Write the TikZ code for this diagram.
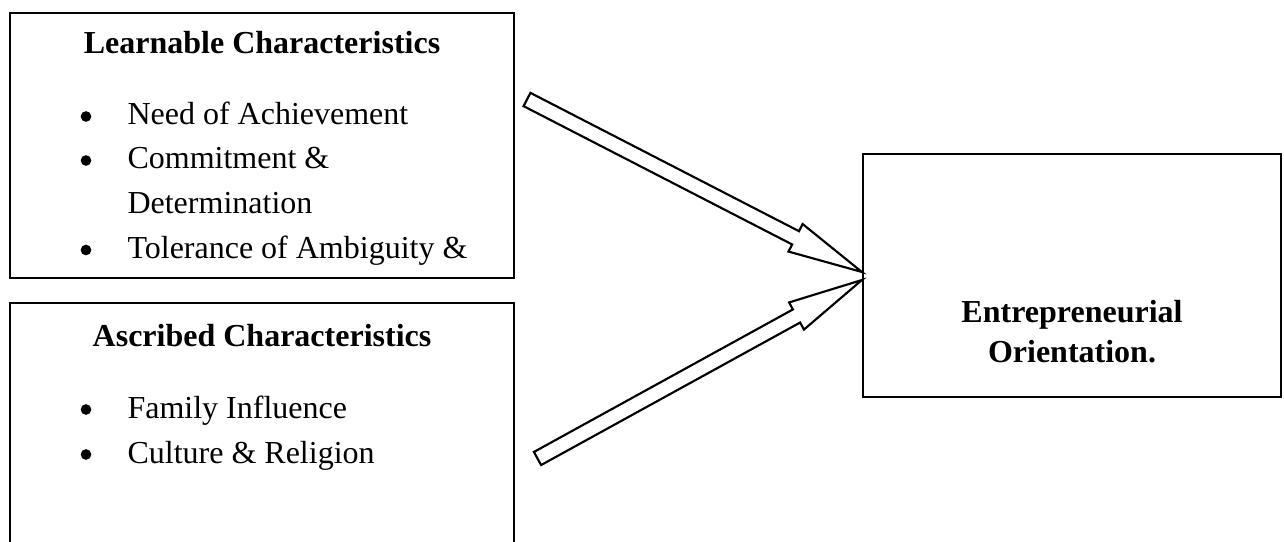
\documentclass[tikz,border=0pt,12pt]{standalone}
\usepackage{fontspec}
\setmainfont{Liberation Serif}
\usetikzlibrary{calc,positioning}

% hollow block arrow from #1 to #2
\newcommand{\fatarrow}[2]{%
  \coordinate (h) at ($(#2)!28pt!(#1)$);
  \draw[blockar] ($(#1)!2.8pt!90:(#2)$) -- ($(h)!2.8pt!90:(#2)$)
    -- ($(h)!5.8pt!90:(#2)$) -- (#2) -- ($(h)!5.8pt!-90:(#2)$)
    -- ($(h)!2.8pt!-90:(#2)$) -- ($(#1)!2.8pt!-90:(#2)$) -- cycle;}

\begin{document}
\begin{tikzpicture}[x=0.375pt, y=-0.375pt,
  font=\fontsize{12}{14}\selectfont,
  box/.style={draw, line width=0.8pt, inner sep=0pt},
  hd/.style={font=\fontsize{12}{14}\selectfont\bfseries, inner sep=0pt, anchor=base},
  itm/.style={inner sep=0pt, anchor=base west},
  dot/.style={circle, fill, inner sep=0pt, minimum size=4pt},
  blockar/.style={draw, line width=0.8pt, fill=white}
]
\clip (0,0) rectangle (1284,542);
\node[box, minimum width=189pt, minimum height=99.4pt] (lc) at (262,145.5) {};
\node[box, minimum width=189pt, minimum height=91.9pt] (ac) at (262,425.5) {};
\node[box, minimum width=156.75pt, minimum height=91.1pt] (eo) at (1072,275.5) {};

% learnable
\node[hd] (lct) at (262,53.5) {Learnable Characteristics};
\node[dot] (b1) at (86,116.5) {};
\node[itm] (l1) at (127,125) {Need of Achievement};
\node[dot] (b2) at (86,160.5) {};
\node[itm] (l2) at (127,169) {Commitment \&};
\node[itm] (l3) at (127,213) {Determination};
\node[dot] (b3) at (86,250) {};
\node[itm] (l4) at (127,258.5) {Tolerance of Ambiguity \&};

% ascribed
\node[hd] (act) at (262,346) {Ascribed Characteristics};
\node[dot] (b4) at (86,409.5) {};
\node[itm] (a1) at (127,418) {Family Influence};
\node[dot] (b5) at (86,454.5) {};
\node[itm] (a2) at (127,463) {Culture \& Religion};

% outcome
\node[hd] (eo1) at (1072,322) {Entrepreneurial};
\node[hd] (eo2) at (1072,362) {Orientation.};

\coordinate (t1) at (527,99.5);
\coordinate (t2) at (537.5,458.5);
\coordinate (p1) at ($(eo.west)+(0,-3.5)$);
\coordinate (p2) at ($(eo.west)+(0,4.5)$);
\fatarrow{t1}{p1}
\fatarrow{t2}{p2}
\end{tikzpicture}
\end{document}
